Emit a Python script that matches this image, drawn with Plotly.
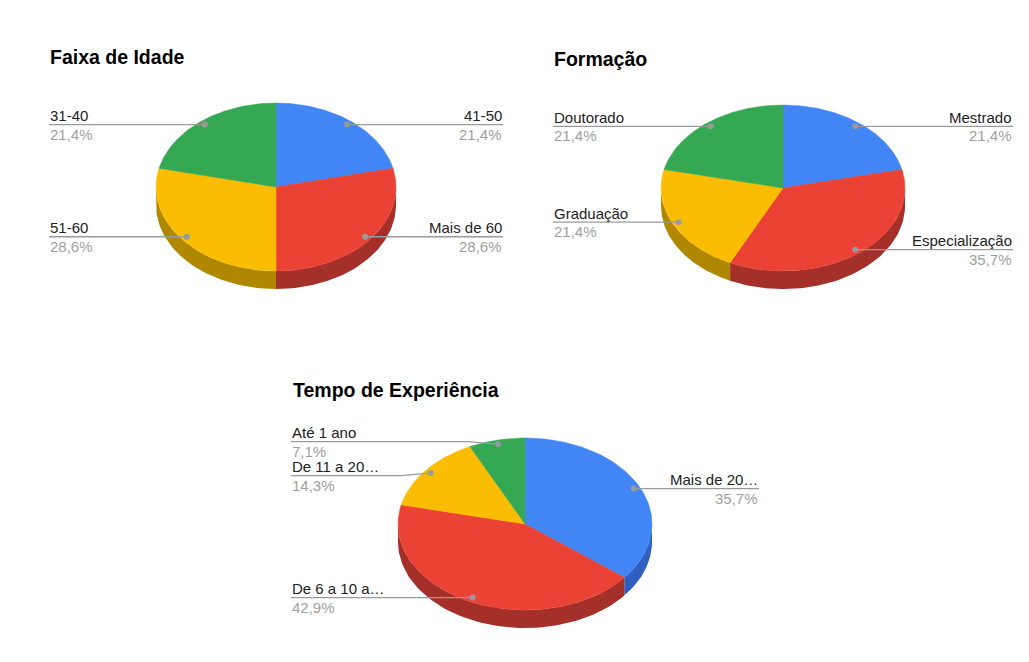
import numpy as np
import plotly.graph_objects as go

# ---- data
idade_labels = ['41-50', 'Mais de 60', '51-60', '31-40']
idade_values = [3, 4, 4, 3]

formacao_labels = ['Mestrado', 'Especialização', 'Graduação', 'Doutorado']
formacao_values = [3, 5, 3, 3]

exp_labels = ['Mais de 20…', 'De 6 a 10 a…', 'De 11 a 20…', 'Até 1 ano']
exp_values = [5, 6, 2, 1]

titles = ['Faixa de Idade', 'Formação', 'Tempo de Experiência']

colors = ['#4285F4', '#EA4335', '#FBBC04', '#34A853']
wall_colors = ['#2f5fc0', '#a5302a', '#b08700', '#24763b']

FONT = 'Liberation Sans, Arial, sans-serif'

# pie layout in page pixels: center, radii, depth, label edges, title pos
pies = [
    dict(labels=idade_labels, values=idade_values, cx=276, cy=187, rx=120, ry=84,
         depth=18, left=49, right=503, tx=49, ty=57),
    dict(labels=formacao_labels, values=formacao_values, cx=783, cy=188, rx=122, ry=83,
         depth=18, left=553, right=1013, tx=553, ty=59),
    dict(labels=exp_labels, values=exp_values, cx=525, cy=524, rx=127, ry=86,
         depth=18, left=291, right=759, tx=292, ty=390),
]

fig = go.Figure()
annotations = []


def ell(p, ang, r=1.0, dy=0):
    # angle in degrees, clockwise from 12 o'clock
    a = np.radians(ang)
    return p['cx'] + r * p['rx'] * np.sin(a), p['cy'] - r * p['ry'] * np.cos(a) + dy


def spread(items, gap=34):
    items.sort(key=lambda d: d['y'])
    for _ in range(50):
        moved = False
        for i in range(len(items) - 1):
            d = items[i + 1]['y'] - items[i]['y']
            if d < gap:
                s = (gap - d) / 2
                items[i]['y'] -= s
                items[i + 1]['y'] += s
                moved = True
        if not moved:
            break


for p in pies:
    vals = np.array(p['values'], dtype=float)
    frac = vals / vals.sum()
    starts = np.concatenate([[0], np.cumsum(frac)[:-1]]) * 360
    ends = np.cumsum(frac) * 360

    # side walls (front half: 90..270 deg)
    for i in range(len(vals)):
        a0, a1 = max(starts[i], 90), min(ends[i], 270)
        if a1 <= a0:
            continue
        angs = np.linspace(a0, a1, 80)
        xt, yt = ell(p, angs)
        xb, yb = ell(p, angs[::-1], dy=p['depth'])
        fig.add_trace(go.Scatter(x=np.concatenate([xt, xb, xt[:1]]), y=np.concatenate([yt, yb, yt[:1]]),
                                 fill='toself', fillcolor=wall_colors[i % 4], mode='lines',
                                 line=dict(width=0, color=wall_colors[i % 4]),
                                 hoverinfo='skip', showlegend=False))

    # top faces
    for i in range(len(vals)):
        angs = np.linspace(starts[i], ends[i], 120)
        xs, ys = ell(p, angs)
        fig.add_trace(go.Scatter(x=np.concatenate([[p['cx']], xs, [p['cx']]]),
                                 y=np.concatenate([[p['cy']], ys, [p['cy']]]),
                                 fill='toself', fillcolor=colors[i % 4], mode='lines',
                                 line=dict(width=0.5, color=colors[i % 4]),
                                 hoverinfo='skip', showlegend=False))

    # labels
    left_items, right_items = [], []
    for i in range(len(vals)):
        mid = (starts[i] + ends[i]) / 2
        dx, dy = ell(p, mid, r=0.95)
        item = dict(name=p['labels'][i], pct=f'{frac[i] * 100:.1f}%'.replace('.', ','),
                    dx=dx, dy=dy, y=dy)
        (right_items if mid < 180 else left_items).append(item)
    spread(left_items)
    spread(right_items)

    for side, items in (('left', left_items), ('right', right_items)):
        for it in items:
            if side == 'left':
                ex, kx, anchor = p['left'], it['dx'] - 30, 'left'
            else:
                ex, kx, anchor = p['right'], it['dx'] + 30, 'right'
            fig.add_trace(go.Scatter(x=[ex, kx, it['dx']], y=[it['y'], it['y'], it['dy']],
                                     mode='lines', line=dict(color='#9a9a9a', width=1.3),
                                     hoverinfo='skip', showlegend=False))
            fig.add_trace(go.Scatter(x=[it['dx']], y=[it['dy']], mode='markers',
                                     marker=dict(color='#9a9a9a', size=6),
                                     hoverinfo='skip', showlegend=False))
            annotations.append(dict(x=ex, y=it['y'] - 9, xref='x', yref='y', text=it['name'],
                                    showarrow=False, xanchor=anchor, yanchor='middle', borderpad=0,
                                    font=dict(family=FONT, size=15, color='#222222')))
            annotations.append(dict(x=ex, y=it['y'] + 9.5, xref='x', yref='y', text=it['pct'],
                                    showarrow=False, xanchor=anchor, yanchor='middle', borderpad=0,
                                    font=dict(family=FONT, size=15, color='#a0a0a0')))

for p, t in zip(pies, titles):
    annotations.append(dict(x=p['tx'], y=p['ty'], xref='x', yref='y', text='<b>' + t + '</b>',
                            showarrow=False, xanchor='left', yanchor='middle', borderpad=0,
                            font=dict(family=FONT, size=19.5, color='#000000')))

# the page body has an 8px margin, so the axes start at page pixel 8
fig.update_layout(
    width=1013, height=646,
    margin=dict(l=0, r=0, t=0, b=0),
    paper_bgcolor='white', plot_bgcolor='white',
    xaxis=dict(range=[8, 1021], visible=False, fixedrange=True),
    yaxis=dict(range=[654, 8], visible=False, fixedrange=True),
    annotations=annotations,
    showlegend=False,
)

fig.write_html("out.html")
